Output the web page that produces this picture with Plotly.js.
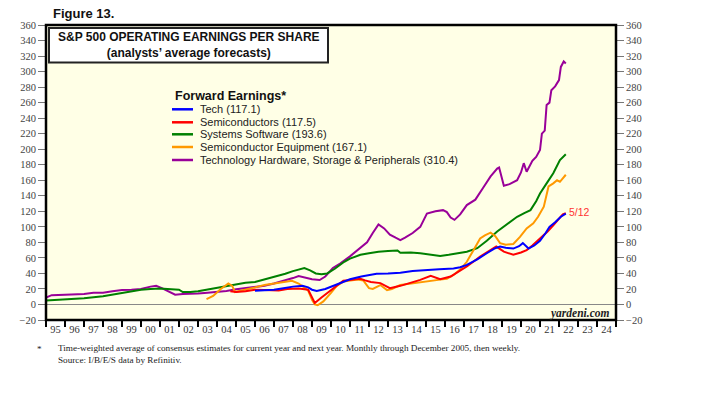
<!DOCTYPE html>
<html>
<head>
<meta charset="utf-8">
<script src="https://cdn.plot.ly/plotly-3.0.1.min.js"></script>
<style>html,body{margin:0;padding:0;background:#fff;}#chart{width:708px;height:400px;}</style>
</head>
<body>
<div id="chart"></div>
<script>
// ---- Data (decimal years) ----
const seriesNames = [
  "Tech (117.1)",
  "Semiconductors (117.5)",
  "Systems Software (193.6)",
  "Semiconductor Equipment (167.1)",
  "Technology Hardware, Storage & Peripherals (310.4)"
];
const seriesColors = ["#0000FF", "#FF0000", "#008000", "#FF9900", "#990099"];

const techX = [2006.0,2006.5,2007.0,2007.5,2008.0,2008.5,2008.8,2009.0,2009.25,2009.7,2010.15,2010.6,2011.0,2011.6,2012.0,2012.4,2013.0,2013.65,2014.3,2015.05,2015.7,2016.45,2016.8,2017.15,2017.7,2018.2,2018.6,2018.9,2019.2,2019.6,2019.9,2020.1,2020.4,2020.7,2021.0,2021.3,2021.5,2021.8,2022.1,2022.36];
const techY = [17.6,18,19,21,23,24,22,19,17.5,20,24,29,32.5,36,38,39.5,40,41,43,44.6,45.5,46.3,48,51,58,66,72,74.6,73,72,75,79,72,76,82,92,100,106,113,117.1];

const semiX = [2004.7,2005.0,2005.5,2006.0,2006.5,2007.0,2007.25,2007.7,2008.3,2008.8,2009.0,2009.15,2009.5,2010.15,2010.65,2011.2,2011.55,2011.8,2012.1,2012.6,2013.1,2013.65,2014.2,2014.7,2015.25,2015.75,2016.3,2016.7,2017.15,2017.85,2018.3,2018.7,2019.1,2019.6,2020.0,2020.3,2020.6,2021.0,2021.4,2021.7,2022.0,2022.2,2022.36];
const semiY = [17,16,17,19,18.5,18,18,20,20.5,19,8,2,9,21,30.5,32,33,31,29,27.5,21,24,28,31.7,37,32.6,36,42,49,61.7,68,74.6,68,64,67,70,76,85,94,102,110,116,117.5];

const softX = [1995.0,1996.0,1997.0,1998.0,1998.5,1999.0,1999.5,2000.0,2000.5,2001.0,2001.6,2002.0,2002.2,2002.6,2003.0,2003.7,2004.3,2005.0,2005.5,2006.0,2006.4,2007.0,2007.6,2008.0,2008.6,2008.9,2009.2,2009.5,2009.8,2010.2,2010.7,2011.0,2011.55,2012.0,2012.5,2013.0,2013.5,2013.65,2014.2,2014.7,2015.2,2015.75,2016.2,2016.7,2017.15,2017.7,2018.2,2018.75,2019.2,2019.6,2019.8,2020.2,2020.5,2020.8,2021.0,2021.35,2021.7,2022.05,2022.36];
const softY = [5,6.5,8,10.5,12.5,15,17,19,20,20.5,19.5,19,16,16,17,20,22,25,28,29,31.5,35,39.5,43,46.8,44,40,39,40,46,55,59,64,66,68,69,69.5,66.5,67,66,64,62.5,64,66,68,72.5,82,94,102,110,113,118,121.5,133,143,156,169,186,193.6];

const equipX = [2003.45,2003.8,2004.2,2004.6,2004.8,2004.95,2005.3,2005.6,2006.0,2006.5,2007.0,2007.5,2007.95,2008.3,2008.6,2008.8,2009.0,2009.15,2009.3,2009.6,2010.0,2010.3,2010.65,2011.0,2011.4,2011.7,2012.0,2012.2,2012.6,2012.95,2013.2,2013.65,2014.2,2014.7,2015.2,2015.75,2016.1,2016.45,2016.8,2017.15,2017.5,2017.85,2018.1,2018.4,2018.65,2018.9,2019.2,2019.6,2019.95,2020.3,2020.65,2020.9,2021.2,2021.45,2021.7,2021.9,2022.05,2022.36];
const equipY = [7,11,20,27,24,16,18,20,22,25,27,29.5,30.5,27,22,18,6,0,-1,4,15,24,29.5,30.5,32,31,21,20,25,18.5,20,25,27,29,30.5,32,33,38,45,55,70,85,89,92.5,88,79,77,78,87,98,104.5,113,126,152,156,160,158,167.1];

const hardX = [1995.0,1995.3,1996.0,1997.0,1997.5,1998.0,1998.5,1999.0,1999.5,2000.0,2000.5,2000.8,2001.1,2001.5,2001.8,2002.2,2002.6,2003.0,2003.5,2004.0,2004.5,2005.0,2005.5,2006.0,2006.5,2007.0,2007.5,2008.0,2008.3,2008.7,2009.0,2009.4,2009.7,2010.1,2010.5,2011.0,2011.5,2011.9,2012.2,2012.5,2012.8,2013.1,2013.4,2013.65,2013.9,2014.3,2014.7,2015.05,2015.5,2015.9,2016.1,2016.3,2016.5,2016.8,2017.15,2017.6,2018.0,2018.4,2018.75,2018.85,2019.1,2019.4,2019.8,2020.0,2020.15,2020.3,2020.6,2020.8,2021.0,2021.1,2021.25,2021.35,2021.5,2021.6,2021.8,2022.0,2022.1,2022.25,2022.36];
const hardY = [9,12,12.5,13.5,15,15,17,18.5,19,20,23,24,21,16,12.5,13.5,13.5,14,15,16,17.5,19.5,21,22,24,27,30,34,36.5,34,32.5,31.5,36,47,53,62,72.5,80,92,103,98,90,86,83,86,92,100,117,120,121.5,119,112,109,116,128,135,150,165,175,176.5,153,155,160,170,182,171,185,190,199,220,224,257,260,276,281,289,306,313,310.4];

const yTickVals = [-20,0,20,40,60,80,100,120,140,160,180,200,220,240,260,280,300,320,340,360];
const xStartYear = 1995, xEndYear = 2025;
const endLabel = "5/12";

// ---- helpers ----
function toDate(y) {
  const yr = Math.floor(y);
  const ms = Date.UTC(yr, 0, 1) + (y - yr) * (Date.UTC(yr + 1, 0, 1) - Date.UTC(yr, 0, 1));
  return new Date(ms).toISOString().slice(0, 10);
}
const allX = [techX, semiX, softX, equipX, hardX];
const allY = [techY, semiY, softY, equipY, hardY];

const traces = allX.map((xs, i) => ({
  x: xs.map(toDate), y: allY[i], type: "scatter", mode: "lines",
  name: seriesNames[i], line: {color: seriesColors[i], width: 2},
  showlegend: false, hoverinfo: "skip"
}));
const order = [4, 2, 3, 1, 0];
const data = order.map(i => traces[i]);

// pixel-to-paper conversion for the plot box
const L = 46, R = 616, T = 25, B = 320;
const px = x => (x - L) / (R - L);
const py = y => (B - y) / (B - T);

const serif = "'Liberation Serif', 'Times New Roman', Times, serif";
const sans = "'Liberation Sans', Arial, sans-serif";

const shapes = [
  {type: "rect", xref: "paper", yref: "paper", x0: px(49), x1: px(328), y0: py(62.5), y1: py(28),
   fillcolor: "#ffffff", line: {color: "#222", width: 2}, layer: "above"},
  {type: "rect", xref: "paper", yref: "paper", x0: 0, x1: 1, y0: 0, y1: 1,
   line: {color: "#000", width: 2.5}, layer: "above"}
];
const annotations = [
  {xref: "paper", yref: "paper", x: px(188.5), y: py(45.2), xanchor: "center", yanchor: "middle",
   text: "<b>S&P 500 OPERATING EARNINGS PER SHARE</b><br><b>(analysts’ average forecasts)</b>",
   showarrow: false, font: {family: sans, size: 12, color: "#111"}},
  {xref: "paper", yref: "paper", x: px(51), y: py(14), xanchor: "left", yanchor: "middle",
   text: "<b>Figure 13.</b>", showarrow: false, font: {family: sans, size: 13, color: "#111"}},
  {xref: "paper", yref: "paper", x: px(172.5), y: py(96.5), xanchor: "left", yanchor: "middle",
   text: "<b>Forward Earnings*</b>", showarrow: false, font: {family: sans, size: 12.5, color: "#111"}},
  {xref: "paper", yref: "paper", x: px(612), y: py(313), xanchor: "right", yanchor: "middle",
   text: "<b><i>yardeni.com</i></b>", showarrow: false, font: {family: serif, size: 11.5, color: "#222"}},
  {xref: "paper", yref: "paper", x: px(567), y: py(212), xanchor: "left", yanchor: "middle",
   text: endLabel, showarrow: false, font: {family: sans, size: 10.5, color: "#FF3333"}},
  {xref: "paper", yref: "paper", x: px(35), y: py(349), xanchor: "left", yanchor: "middle",
   text: "*", showarrow: false, font: {family: serif, size: 9.2, color: "#222"}},
  {xref: "paper", yref: "paper", x: px(56), y: py(353.5), xanchor: "left", yanchor: "middle", align: "left",
   text: "Time-weighted average of consensus estimates for current year and next year. Monthly through December 2005, then weekly.<br>Source: I/B/E/S data by Refinitiv.",
   showarrow: false, font: {family: serif, size: 9.2, color: "#222"}}
];
const legendYs = [109.3, 122.3, 134.3, 147, 160];
seriesNames.forEach((nm, i) => {
  shapes.push({type: "line", xref: "paper", yref: "paper", x0: px(172), x1: px(193),
    y0: py(legendYs[i]), y1: py(legendYs[i]), line: {color: seriesColors[i], width: 2.5}});
  annotations.push({xref: "paper", yref: "paper", x: px(198), y: py(legendYs[i]), xanchor: "left",
    yanchor: "middle", text: nm, showarrow: false, font: {family: sans, size: 11, color: "#222"}});
});

const yAxisCommon = {
  range: [-20, 360], tickvals: yTickVals, ticks: "outside", ticklen: 7, tickwidth: 1,
  tickcolor: "#777", showgrid: false, fixedrange: true,
  tickfont: {family: serif, size: 10.5, color: "#444"}
};

const layout = {
  width: 708, height: 400,
  margin: {l: L, r: 708 - R, t: T, b: 400 - B, pad: 0},
  paper_bgcolor: "#ffffff", plot_bgcolor: "#FFFFE6",
  showlegend: false,
  xaxis: {
    type: "date", range: [toDate(xStartYear), toDate(xEndYear)],
    tick0: toDate(xStartYear), dtick: "M12", tickformat: "%y", ticklabelmode: "period",
    ticks: "outside", ticklen: 6, tickwidth: 2.5, tickcolor: "#000", ticklabelstandoff: -7,
    showgrid: false, zeroline: false, fixedrange: true,
    tickfont: {family: serif, size: 10.5, color: "#333"}
  },
  yaxis: Object.assign({}, yAxisCommon, {side: "left", zeroline: true, zerolinecolor: "#888", zerolinewidth: 1}),
  yaxis2: Object.assign({}, yAxisCommon, {side: "right", overlaying: "y", zeroline: false}),
  shapes: shapes,
  annotations: annotations
};
data.push({x: [toDate(xStartYear)], y: [0], yaxis: "y2", mode: "markers", marker: {opacity: 0}, showlegend: false, hoverinfo: "skip"});

Plotly.newPlot("chart", data, layout, {staticPlot: true, displayModeBar: false});
</script>
</body>
</html>
